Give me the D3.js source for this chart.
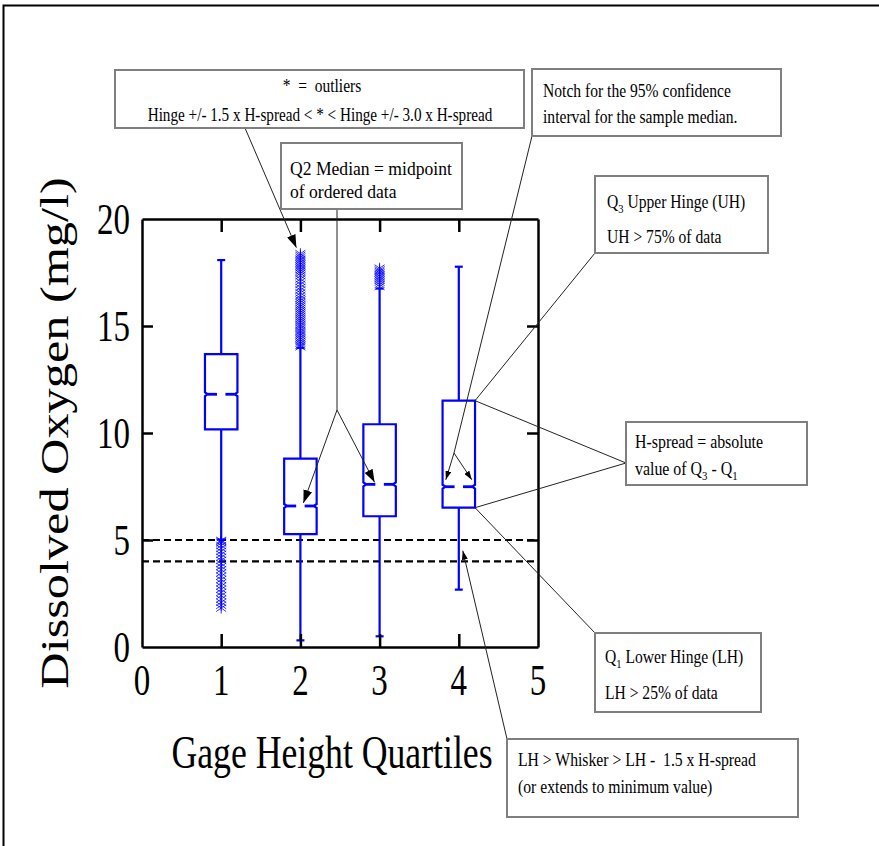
<!DOCTYPE html>
<html>
<head>
<meta charset="utf-8">
<script src="https://cdn.jsdelivr.net/npm/d3@7"></script>
<style>
  html, body { margin: 0; padding: 0; background: #fff; }
  svg { display: block; }
  text { font-family: "Liberation Serif", "Times New Roman", serif; fill: #000; white-space: pre; }
</style>
</head>
<body>
<script>
// Dissolved oxygen by gage-height quartile: notched box plots
const categories  = [1, 2, 3, 4];
const q1          = [10.17, 5.27, 6.11, 6.51];
const medians     = [11.81, 6.59, 7.60, 7.49];
const q3          = [13.69, 8.80, 10.41, 11.51];
const notchLow    = [11.72, 6.50, 7.51, 7.40];
const notchHigh   = [11.90, 6.68, 7.69, 7.58];
const whiskerLow  = [5.02, 0.31, 0.50, 2.68];
const whiskerHigh = [18.08, 13.98, 16.75, 17.77];
const outliers1 = [4.98, 4.93, 4.86, 4.74, 4.61, 4.47, 4.33, 4.19, 4.05, 3.90, 3.76, 3.61,
                   3.46, 3.31, 3.15, 3.00, 2.85, 2.70, 2.55, 2.40, 2.24, 2.09, 1.95, 1.82];
const outliers2 = [14.03, 14.11, 14.20, 14.28, 14.37, 14.45, 14.55, 14.63, 14.72, 14.80, 14.90,
                   15.00, 15.08, 15.18, 15.27, 15.36, 15.45, 15.55, 15.64, 15.73, 15.82, 15.92,
                   16.00, 16.10, 16.20, 16.30, 16.42, 16.55, 16.68, 16.80, 16.95, 17.08, 17.20,
                   17.35, 17.46, 17.55, 17.63, 17.72, 17.80, 17.88, 17.96, 18.05, 18.13, 18.22,
                   18.30, 18.38];
const outliers3 = [16.85, 16.95, 17.05, 17.15, 17.24, 17.32, 17.40, 17.48, 17.55, 17.62, 17.70];
const outliers  = [outliers1, outliers2, outliers3, []];
const refLevels = [5, 4];
const xTicks = [0, 1, 2, 3, 4, 5];
const yTicks = [0, 5, 10, 15, 20];

const W = 879, H = 846;
const blue = "#0000ff";
const boxWidth = 0.41;

const svg = d3.select("body").append("svg").attr("width", W).attr("height", H);

const defs = svg.append("defs");
function arrowMarker(id, len, wid) {
  defs.append("marker")
    .attr("id", id).attr("markerUnits", "userSpaceOnUse")
    .attr("viewBox", `0 0 ${len} ${wid}`)
    .attr("refX", len).attr("refY", wid / 2)
    .attr("markerWidth", len).attr("markerHeight", wid)
    .attr("orient", "auto")
    .append("path").attr("d", `M0,0L${len},${wid / 2}L0,${wid}Z`).attr("fill", "#000");
}
arrowMarker("bigArrow", 13, 9);
arrowMarker("smallArrow", 9, 6);

// page frame
svg.append("path").attr("d", "M3.5,846V5.5H879").attr("fill", "none")
  .attr("stroke", "#000").attr("stroke-width", 2);

const xs = d3.scaleLinear().domain([0, 5]).range([142, 538]);
const ys = d3.scaleLinear().domain([0, 20]).range([647, 219]);

function stretched(parent, x, y, size, sy, anchor) {
  return parent.append("text")
    .attr("transform", `translate(${x},${y}) scale(1,${sy})`)
    .attr("font-size", size)
    .attr("text-anchor", anchor || "start");
}

// reference levels
const plot = svg.append("g");
plot.selectAll("line.ref").data(refLevels).join("line").attr("class", "ref")
  .attr("x1", xs(0)).attr("x2", xs(5))
  .attr("y1", d => ys(d)).attr("y2", d => ys(d))
  .attr("stroke", "#000").attr("stroke-width", 2.2).attr("stroke-dasharray", "7,4");

// axes with inward ticks on all four sides
function styleAxis(g) {
  g.selectAll("path.domain").attr("stroke", "#000").attr("stroke-width", 2.5);
  g.selectAll(".tick line").attr("stroke", "#000").attr("stroke-width", 2.5);
  g.selectAll(".tick text").remove();
}
svg.append("g").attr("transform", `translate(0,${ys(0)})`)
  .call(d3.axisBottom(xs).tickValues([1, 2, 3, 4]).tickSizeInner(-13).tickSizeOuter(0)).call(styleAxis);
svg.append("g").attr("transform", `translate(0,${ys(20)})`)
  .call(d3.axisTop(xs).tickValues([1, 2, 3, 4]).tickSizeInner(-13).tickSizeOuter(0)).call(styleAxis);
svg.append("g").attr("transform", `translate(${xs(0)},0)`)
  .call(d3.axisLeft(ys).tickValues([5, 10, 15]).tickSizeInner(-11).tickSizeOuter(0)).call(styleAxis);
svg.append("g").attr("transform", `translate(${xs(5)},0)`)
  .call(d3.axisRight(ys).tickValues([5, 10, 15]).tickSizeInner(-11).tickSizeOuter(0)).call(styleAxis);

// tick labels
xTicks.forEach(v => stretched(svg, xs(v), 695, 33, 1.35, "middle").text(v));
yTicks.forEach(v => stretched(svg, 130, ys(v) + 15, 33, 1.35, "end").text(v));

// axis titles
stretched(svg, 332, 768, 35.7, 1.31, "middle").text("Gage Height Quartiles");
svg.append("text")
  .attr("transform", `translate(68,433) rotate(-90) scale(1.29,1)`)
  .attr("font-size", 39).attr("text-anchor", "middle")
  .text("Dissolved Oxygen (mg/l)");

// box plots
const hw = (xs(boxWidth) - xs(0)) / 2;
const notchDepth = 3, medianSeg = 12, capHalf = 4;
const boxes = plot.selectAll("g.box").data(categories.map((c, i) => ({
  c, q1: q1[i], med: medians[i], q3: q3[i], nLo: notchLow[i], nHi: notchHigh[i],
  wLo: whiskerLow[i], wHi: whiskerHigh[i], out: outliers[i]
}))).join("g").attr("class", "box");

boxes.each(function (d) {
  const g = d3.select(this);
  const cx = xs(d.c), L = cx - hw, R = cx + hw;
  const stroke = s => s.attr("stroke", blue).attr("stroke-width", 2.2).attr("fill", "none");
  // whiskers
  g.append("line").attr("x1", cx).attr("x2", cx).attr("y1", ys(d.q3)).attr("y2", ys(d.wHi)).call(stroke);
  g.append("line").attr("x1", cx).attr("x2", cx).attr("y1", ys(d.q1)).attr("y2", ys(d.wLo)).call(stroke);
  g.append("line").attr("x1", cx - capHalf).attr("x2", cx + capHalf).attr("y1", ys(d.wHi)).attr("y2", ys(d.wHi)).call(stroke);
  g.append("line").attr("x1", cx - capHalf).attr("x2", cx + capHalf).attr("y1", ys(d.wLo)).attr("y2", ys(d.wLo)).call(stroke);
  // notched box
  const p = d3.path();
  p.moveTo(L, ys(d.q3)); p.lineTo(R, ys(d.q3)); p.lineTo(R, ys(d.nHi));
  p.lineTo(R - notchDepth, ys(d.med)); p.lineTo(R, ys(d.nLo)); p.lineTo(R, ys(d.q1));
  p.lineTo(L, ys(d.q1)); p.lineTo(L, ys(d.nLo)); p.lineTo(L + notchDepth, ys(d.med));
  p.lineTo(L, ys(d.nHi)); p.closePath();
  g.append("path").attr("d", p.toString()).call(stroke).attr("fill", "#fff");
  // median
  g.append("line").attr("x1", L + notchDepth).attr("x2", L + medianSeg).attr("y1", ys(d.med)).attr("y2", ys(d.med))
    .attr("stroke", blue).attr("stroke-width", 2.8);
  g.append("line").attr("x1", R - medianSeg).attr("x2", R - notchDepth).attr("y1", ys(d.med)).attr("y2", ys(d.med))
    .attr("stroke", blue).attr("stroke-width", 2.8);
  // outliers as asterisks
  g.selectAll("path.out").data(d.out).join("path").attr("class", "out")
    .attr("transform", v => `translate(${cx},${ys(v)})`)
    .attr("d", "M0,-5.5V5.5M-5,-3.5L5,3.5M-5,3.5L5,-3.5")
    .attr("stroke", blue).attr("stroke-width", 1).attr("stroke-opacity", 0.8).attr("fill", "none");
});

// annotations
const ann = svg.append("g");
function noteBox(x0, y0, x1, y1) {
  ann.append("rect").attr("x", x0).attr("y", y0).attr("width", x1 - x0).attr("height", y1 - y0)
    .attr("fill", "#fff").attr("stroke", "#7f7f7f").attr("stroke-width", 2);
}
function leader(points, marker) {
  const l = ann.append("path").attr("d", d3.line()(points)).attr("fill", "none")
    .attr("stroke", "#222").attr("stroke-width", 1);
  if (marker) l.attr("marker-end", `url(#${marker})`);
}
// text made of plain runs and subscript runs: [["Q"], ["3", true], [" Upper"]]
function richText(t, runs) {
  let low = false;
  runs.forEach(([s, isSub]) => {
    const ts = t.append("tspan").text(s);
    if (isSub && !low) { ts.attr("font-size", "0.68em").attr("dy", 4); low = true; }
    else if (isSub) ts.attr("font-size", "0.68em");
    else if (low) { ts.attr("dy", -4); low = false; }
  });
}

const i2 = 1, i3 = 2, i4 = 3;
const q3Corner = [xs(4) + hw, ys(q3[i4])];
const q1Corner = [xs(4) + hw, ys(q1[i4])];

// leader lines
leader([[245, 128], [xs(2) - 4, ys(d3.max(outliers2)) - 6]], "bigArrow");
leader([[337, 209], [337, 410], [xs(2) + 3, ys(medians[i2]) - 3]], "bigArrow");
leader([[337, 410], [xs(3) - 5, ys(medians[i3]) - 2]], "bigArrow");
leader([[532, 136], [454, 453], [xs(4) - 13, ys(notchHigh[i4]) - 5]], "smallArrow");
leader([[454, 453], [xs(4) + 13, ys(notchHigh[i4]) - 5]], "smallArrow");
leader([[595, 253], q3Corner]);
leader([q3Corner, [626, 463], q1Corner]);
leader([q1Corner, [595, 633]]);
leader([[507, 739], [xs(4) + 4, ys(4.5)]], "smallArrow");

noteBox(115, 70, 524, 128);
stretched(ann, 322, 92, 15.5, 1.22, "middle").text("*  =  outliers");
stretched(ann, 320, 121, 15.2, 1.22, "middle").text("Hinge +/- 1.5 x H-spread < * < Hinge +/- 3.0 x H-spread");

noteBox(281, 143, 462, 209);
stretched(ann, 290, 175, 17.6, 1.12).text("Q2 Median = midpoint");
stretched(ann, 290, 198, 17.6, 1.12).text("of ordered data");

noteBox(532, 69, 781, 136);
stretched(ann, 543, 97, 15.6, 1.2).text("Notch for the 95% confidence");
stretched(ann, 543, 123, 15.6, 1.2).text("interval for the sample median.");

noteBox(595, 176, 768, 253);
richText(stretched(ann, 607, 208, 15.6, 1.2), [["Q"], ["3", true], [" Upper Hinge (UH)"]]);
stretched(ann, 607, 243, 15.6, 1.2).text("UH > 75% of data");

noteBox(626, 422, 807, 485);
stretched(ann, 635, 448, 15.9, 1.2).text("H-spread = absolute");
richText(stretched(ann, 635, 475, 15.9, 1.2), [["value of Q"], ["3", true], [" - Q"], ["1", true]]);

noteBox(595, 633, 761, 712);
richText(stretched(ann, 605, 663, 15.6, 1.2), [["Q"], ["1", true], [" Lower Hinge (LH)"]]);
stretched(ann, 605, 699, 15.6, 1.2).text("LH > 25% of data");

noteBox(507, 739, 798, 817);
stretched(ann, 518, 766, 15.7, 1.2).text("LH > Whisker > LH -  1.5 x H-spread");
stretched(ann, 518, 793, 15.7, 1.2).text("(or extends to minimum value)");
</script>
</body>
</html>
